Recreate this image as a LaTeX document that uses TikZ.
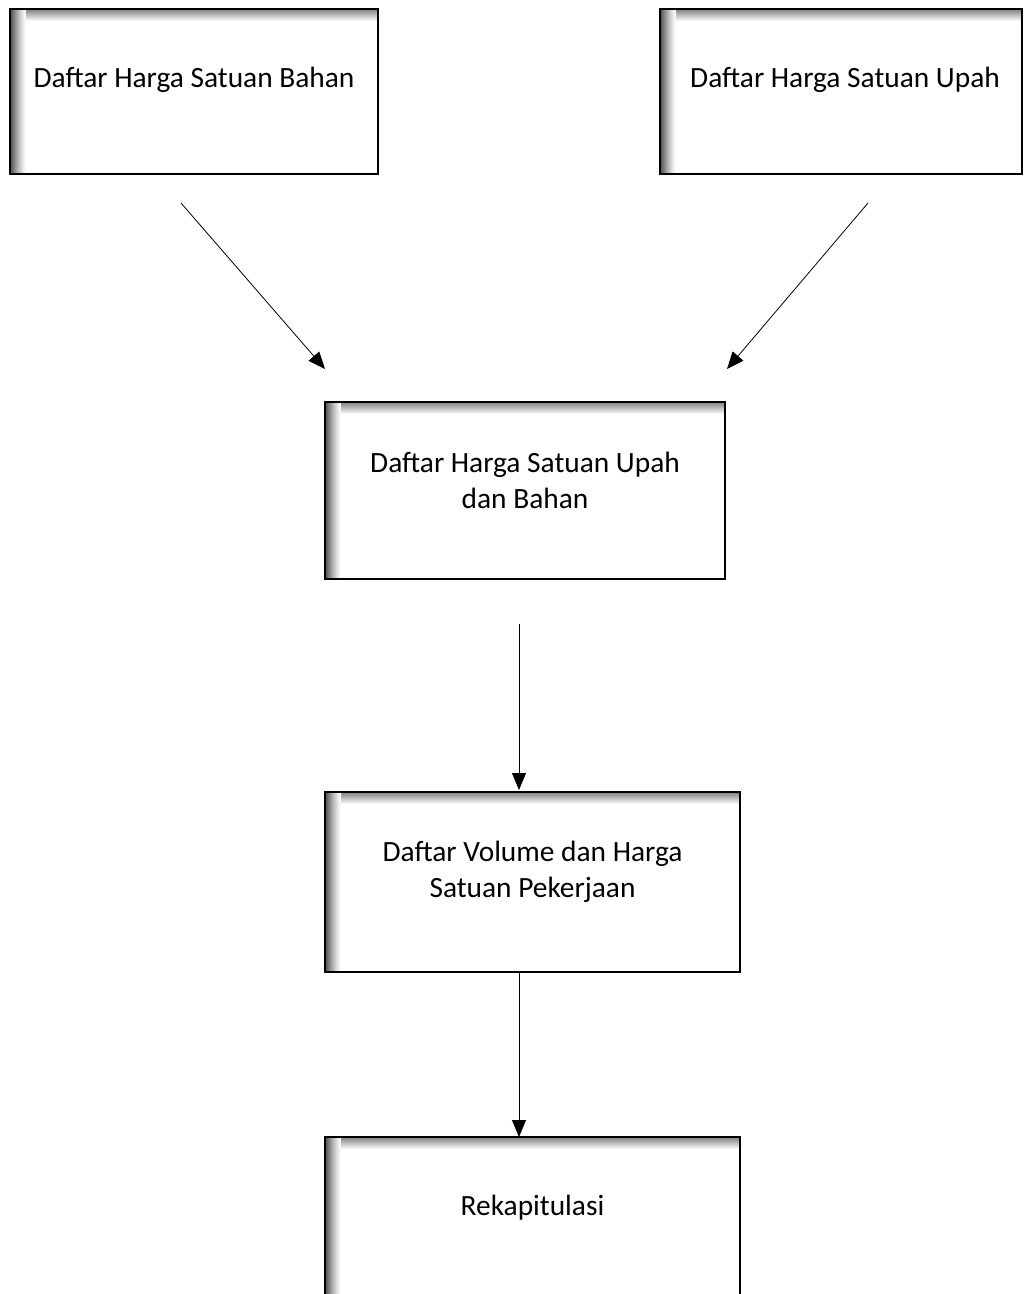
\documentclass[tikz,border=0pt]{standalone}
\usepackage{fontspec}
\setmainfont{Carlito}
\usetikzlibrary{arrows.meta}
\tikzset{
  flowbox/.style={draw=black, line width=1.6pt, fill=white, inner sep=0pt,
    path picture={
      \foreach \i in {0,...,11}{
        \pgfmathsetmacro{\g}{50*(1-\i/12)}
        \fill[black!\g!white] ([yshift=-\i pt]path picture bounding box.north west) rectangle ([yshift=-\i pt-1.05pt]path picture bounding box.north east);
      }
      \foreach \i in {0,...,15}{
        \pgfmathsetmacro{\g}{70*(1-\i/16)^1.3}
        \fill[black!\g!white] ([xshift=\i pt]path picture bounding box.north west) rectangle ([xshift=\i pt+1.05pt]path picture bounding box.south west);
      }
    }},
  boxtext/.style={align=center, font=\fontsize{29.4pt}{36pt}\selectfont, inner sep=0pt},
  flowarrow/.style={-{Triangle[length=17pt,width=14pt]}, line width=0.8pt, black}
}
\begin{document}
\begin{tikzpicture}[x=1pt,y=-1pt]
\useasboundingbox (0,0) rectangle (1030,1294);
% boxes
\node[flowbox, minimum width=368pt, minimum height=165pt] (b1) at (194,91.5) {};
\node[flowbox, minimum width=362pt, minimum height=165pt] (b2) at (841,91.5) {};
\node[flowbox, minimum width=400pt, minimum height=177pt] (b3) at (525,490.5) {};
\node[flowbox, minimum width=415pt, minimum height=180pt] (b4) at (532.5,882) {};
\node[flowbox, minimum width=415pt, minimum height=170pt] (b5) at (532.5,1222) {};
% texts
\node[boxtext] (t1) at (194,80) {Daftar Harga Satuan Bahan};
\node[boxtext] (t2) at (845,80) {Daftar Harga Satuan Upah};
\node[boxtext] (t3) at (525,480) {Daftar Harga Satuan Upah\\dan Bahan};
\node[boxtext] (t4) at (532.5,872) {Daftar Volume dan Harga\\Satuan Pekerjaan};
\node[boxtext] (t5) at (532.5,1208) {Rekapitulasi};
% connector ends
\coordinate (a1s) at (181,203);
\coordinate (a1e) at (325,369);
\coordinate (a2s) at (868,203);
\coordinate (a2e) at (727,369);
\coordinate (a3s) at (519,624);
\coordinate (a3e) at (519,790);
\coordinate (a4e) at (519,1137);
\draw[flowarrow] (a1s) -- (a1e);
\draw[flowarrow] (a2s) -- (a2e);
\draw[flowarrow] (a3s) -- (a3e);
\draw[flowarrow] (b4.south -| a3s) -- (a4e);
\end{tikzpicture}
\end{document}
